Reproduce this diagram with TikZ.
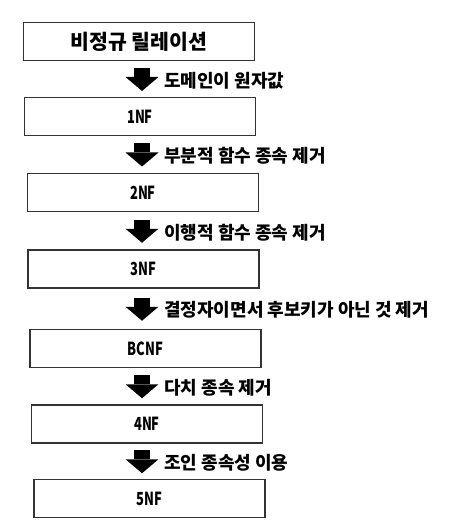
\documentclass[tikz,border=0pt]{standalone}
\usepackage{fontspec}
\setmainfont{Noto Sans CJK KR}
\newfontfamily\nffont{Noto Sans CJK KR}[FakeStretch=0.72]
\usetikzlibrary{arrows.meta,calc}

\begin{document}
\begin{tikzpicture}[x=1pt,y=-1pt,
  nfbox/.style={draw=black!80,line width=1.2pt,minimum width=231pt,minimum height=38pt,
    inner sep=0pt,font=\nffont\bfseries\fontsize{18}{20}\selectfont},
  fatarrow/.style={line width=16pt,-{Triangle[width=33pt,length=14pt,line width=0pt]}},
  steplabel/.style={anchor=west,inner sep=0pt,font=\bfseries\fontsize{18}{20}\selectfont}]
  \useasboundingbox (0,0) rectangle (448,526);
  % the normal forms, top to bottom
  \node[nfbox,font=\bfseries\fontsize{20.5}{24}\selectfont] (unf) at (139,41.5) {비정규 릴레이션};
  \node[nfbox] (nf1)  at (140,116.5) {1NF};
  \node[nfbox] (nf2)  at (143,192.5) {2NF};
  \node[nfbox] (nf3)  at (143.5,269) {3NF};
  \node[nfbox] (bcnf) at (145.5,348.5) {BCNF};
  \node[nfbox] (nf4)  at (147,424) {4NF};
  \node[nfbox] (nf5)  at (149.5,498.5) {5NF};
  % fat arrows between boxes, with what each step removes
  \coordinate (ax) at (142,0);
  \foreach \a/\b/\t [count=\i] in {unf/nf1/도메인이 원자값,
      nf1/nf2/부분적 함수 종속 제거,
      nf2/nf3/이행적 함수 종속 제거,
      nf3/bcnf/결정자이면서 후보키가 아닌 것 제거,
      bcnf/nf4/다치 종속 제거,
      nf4/nf5/조인 종속성 이용} {
    \path ($(\a.south)!0.5!(\b.north)$) coordinate (mid\i);
    \coordinate (m\i) at ($(ax |- mid\i)+(0,0.5)$);
    \draw[fatarrow] ($(m\i)+(0,-11.5)$) -- ($(m\i)+(0,11.5)$);
    \node[steplabel] (lbl\i) at ($(m\i)+(22,1)$) {\t};
  }
\end{tikzpicture}
\end{document}
